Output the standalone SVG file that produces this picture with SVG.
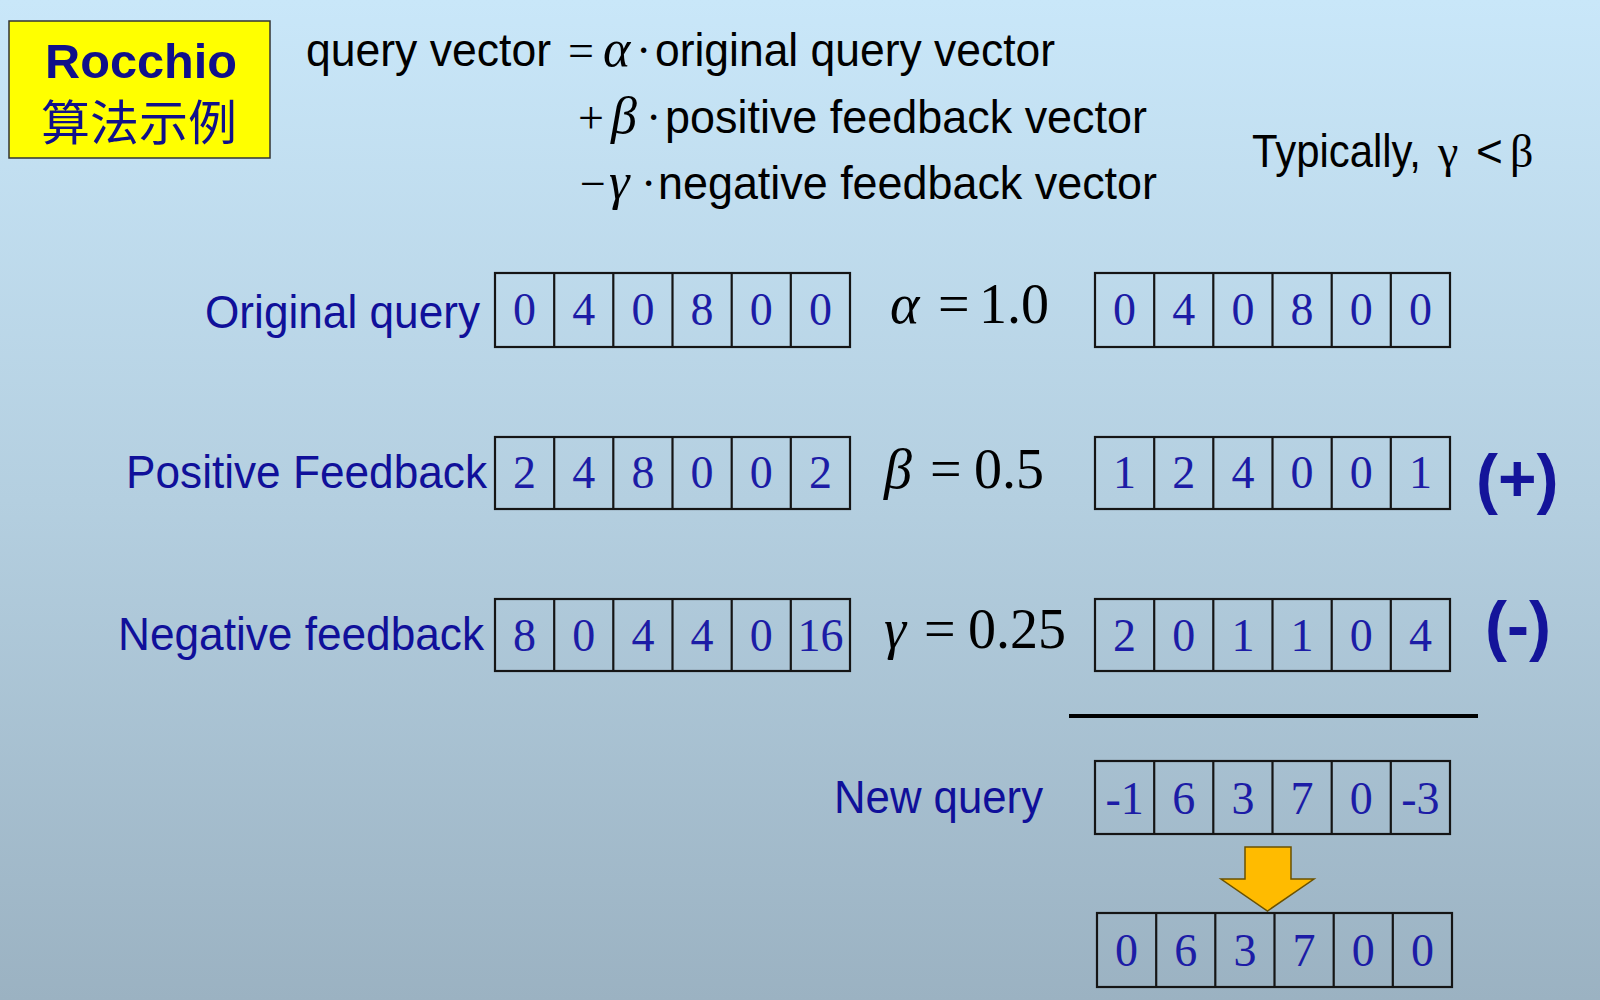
<svg xmlns="http://www.w3.org/2000/svg" width="1600" height="1000" viewBox="0 0 1600 1000">
<defs>
<linearGradient id="bg" x1="0" y1="0" x2="0" y2="1">
<stop offset="0" stop-color="#c9e7f9"/>
<stop offset="0.5" stop-color="#b4cfe0"/>
<stop offset="1" stop-color="#9bb2c2"/>
</linearGradient>
<style>
.sans{font-family:"Liberation Sans",Arial,sans-serif;}
.serif{font-family:"Liberation Serif","Times New Roman",serif;}
.f{font-size:46px;fill:#000;}
.g{font-size:52px;font-style:italic;}
.lbl{font-size:46px;fill:#10109a;}
.dg{font-family:"Liberation Serif","Times New Roman",serif;font-size:46px;fill:#1c1ca6;text-anchor:middle;}
.cell{fill:none;stroke:#151515;stroke-width:2.2;}
.coef{font-family:"Liberation Serif","Times New Roman",serif;font-size:56px;fill:#000;}
.sign{font-family:"Liberation Sans",Arial,sans-serif;font-weight:bold;font-size:66px;fill:#14149a;}
</style>
</defs>
<rect x="0" y="0" width="1600" height="1000" fill="url(#bg)"/>

<g id="title">
<rect x="9" y="21" width="261" height="137" fill="#ffff00" stroke="#333" stroke-width="1.5"/>
<text class="sans" x="45" y="78" font-size="49" font-weight="bold" fill="#10108a" textLength="192" lengthAdjust="spacingAndGlyphs">Rocchio</text>
<text x="41" y="140" font-size="48" fill="#10108a" font-family="'Noto Sans CJK SC','Noto Sans CJK JP',sans-serif" textLength="196" lengthAdjust="spacingAndGlyphs">算法示例</text>
</g>

<g id="formula">
<text class="sans f" x="306" y="66" textLength="245" lengthAdjust="spacingAndGlyphs">query vector</text>
<text class="serif f" x="568" y="66">=</text>
<text class="serif f g" x="603" y="66">α</text>
<text class="serif f" x="636" y="66">·</text>
<text class="sans f" x="655" y="66" textLength="400" lengthAdjust="spacingAndGlyphs">original query vector</text>

<text class="serif f" x="578" y="133">+</text>
<text class="serif f g" x="611" y="133">β</text>
<text class="serif f" x="646" y="133">·</text>
<text class="sans f" x="665" y="133" textLength="482" lengthAdjust="spacingAndGlyphs">positive feedback vector</text>

<text class="serif f" x="580" y="199">−</text>
<text class="serif f g" x="609" y="199">γ</text>
<text class="serif f" x="641" y="199">·</text>
<text class="sans f" x="658" y="199" textLength="499" lengthAdjust="spacingAndGlyphs">negative feedback vector</text>
</g>

<g id="typically">
<text class="sans f" x="1252" y="167" textLength="169" lengthAdjust="spacingAndGlyphs">Typically,</text>
<text class="serif f" x="1438" y="167">γ</text>
<text class="sans f" x="1476" y="167">&lt;</text>
<text class="serif f" x="1510" y="167">β</text>
</g>

<g id="labels">
<text class="sans lbl" x="205" y="328" textLength="275" lengthAdjust="spacingAndGlyphs">Original query</text>
<text class="sans lbl" x="126" y="488" textLength="361" lengthAdjust="spacingAndGlyphs">Positive Feedback</text>
<text class="sans lbl" x="118" y="650" textLength="366" lengthAdjust="spacingAndGlyphs">Negative feedback</text>
<text class="sans lbl" x="834" y="813" textLength="209" lengthAdjust="spacingAndGlyphs">New query</text>
</g>

<g id="coefficients">
<text class="coef" x="890" y="323"><tspan font-style="italic">α</tspan><tspan x="938">=</tspan><tspan x="979">1.0</tspan></text>
<text class="coef" x="884" y="488"><tspan font-style="italic">β</tspan><tspan x="930">=</tspan><tspan x="974">0.5</tspan></text>
<text class="coef" x="884" y="648"><tspan font-style="italic">γ</tspan><tspan x="924">=</tspan><tspan x="968">0.25</tspan></text>
</g>

<g id="vec-original">
<rect class="cell" x="495" y="273" width="355" height="74"/>
<path class="cell" d="M554.2,273V347M613.3,273V347M672.5,273V347M731.7,273V347M790.8,273V347"/>
<text class="dg" x="524.6" y="325">0</text><text class="dg" x="583.8" y="325">4</text><text class="dg" x="642.9" y="325">0</text><text class="dg" x="702.1" y="325">8</text><text class="dg" x="761.3" y="325">0</text><text class="dg" x="820.4" y="325">0</text>
</g>
<g id="vec-original-scaled">
<rect class="cell" x="1095" y="273" width="355" height="74"/>
<path class="cell" d="M1154.2,273V347M1213.3,273V347M1272.5,273V347M1331.7,273V347M1390.8,273V347"/>
<text class="dg" x="1124.6" y="325">0</text><text class="dg" x="1183.8" y="325">4</text><text class="dg" x="1242.9" y="325">0</text><text class="dg" x="1302.1" y="325">8</text><text class="dg" x="1361.3" y="325">0</text><text class="dg" x="1420.4" y="325">0</text>
</g>

<g id="vec-positive">
<rect class="cell" x="495" y="437" width="355" height="72"/>
<path class="cell" d="M554.2,437V509M613.3,437V509M672.5,437V509M731.7,437V509M790.8,437V509"/>
<text class="dg" x="524.6" y="488">2</text><text class="dg" x="583.8" y="488">4</text><text class="dg" x="642.9" y="488">8</text><text class="dg" x="702.1" y="488">0</text><text class="dg" x="761.3" y="488">0</text><text class="dg" x="820.4" y="488">2</text>
</g>
<g id="vec-positive-scaled">
<rect class="cell" x="1095" y="437" width="355" height="72"/>
<path class="cell" d="M1154.2,437V509M1213.3,437V509M1272.5,437V509M1331.7,437V509M1390.8,437V509"/>
<text class="dg" x="1124.6" y="488">1</text><text class="dg" x="1183.8" y="488">2</text><text class="dg" x="1242.9" y="488">4</text><text class="dg" x="1302.1" y="488">0</text><text class="dg" x="1361.3" y="488">0</text><text class="dg" x="1420.4" y="488">1</text>
</g>
<text class="sign" id="plus" x="1476" y="501">(+)</text>

<g id="vec-negative">
<rect class="cell" x="495" y="599" width="355" height="72"/>
<path class="cell" d="M554.2,599V671M613.3,599V671M672.5,599V671M731.7,599V671M790.8,599V671"/>
<text class="dg" x="524.6" y="651">8</text><text class="dg" x="583.8" y="651">0</text><text class="dg" x="642.9" y="651">4</text><text class="dg" x="702.1" y="651">4</text><text class="dg" x="761.3" y="651">0</text><text class="dg" x="820.4" y="651">16</text>
</g>
<g id="vec-negative-scaled">
<rect class="cell" x="1095" y="599" width="355" height="72"/>
<path class="cell" d="M1154.2,599V671M1213.3,599V671M1272.5,599V671M1331.7,599V671M1390.8,599V671"/>
<text class="dg" x="1124.6" y="651">2</text><text class="dg" x="1183.8" y="651">0</text><text class="dg" x="1242.9" y="651">1</text><text class="dg" x="1302.1" y="651">1</text><text class="dg" x="1361.3" y="651">0</text><text class="dg" x="1420.4" y="651">4</text>
</g>
<text class="sign" id="minus" x="1485" y="648">(-)</text>

<g id="connectors">
<line x1="1069" y1="716" x2="1478" y2="716" stroke="#000" stroke-width="4"/>
<path d="M1245,847H1291V879H1314L1267.5,911L1221,879H1245Z" fill="#ffbb00" stroke="#6b5200" stroke-width="1.5"/>
</g>

<g id="vec-new">
<rect class="cell" x="1095" y="761" width="355" height="73"/>
<path class="cell" d="M1154.2,761V834M1213.3,761V834M1272.5,761V834M1331.7,761V834M1390.8,761V834"/>
<text class="dg" x="1124.6" y="814">-1</text><text class="dg" x="1183.8" y="814">6</text><text class="dg" x="1242.9" y="814">3</text><text class="dg" x="1302.1" y="814">7</text><text class="dg" x="1361.3" y="814">0</text><text class="dg" x="1420.4" y="814">-3</text>
</g>

<g id="vec-final">
<rect class="cell" x="1097" y="913" width="355" height="74"/>
<path class="cell" d="M1156.2,913V987M1215.3,913V987M1274.5,913V987M1333.7,913V987M1392.8,913V987"/>
<text class="dg" x="1126.6" y="966">0</text><text class="dg" x="1185.8" y="966">6</text><text class="dg" x="1244.9" y="966">3</text><text class="dg" x="1304.1" y="966">7</text><text class="dg" x="1363.3" y="966">0</text><text class="dg" x="1422.4" y="966">0</text>
</g>
</svg>
